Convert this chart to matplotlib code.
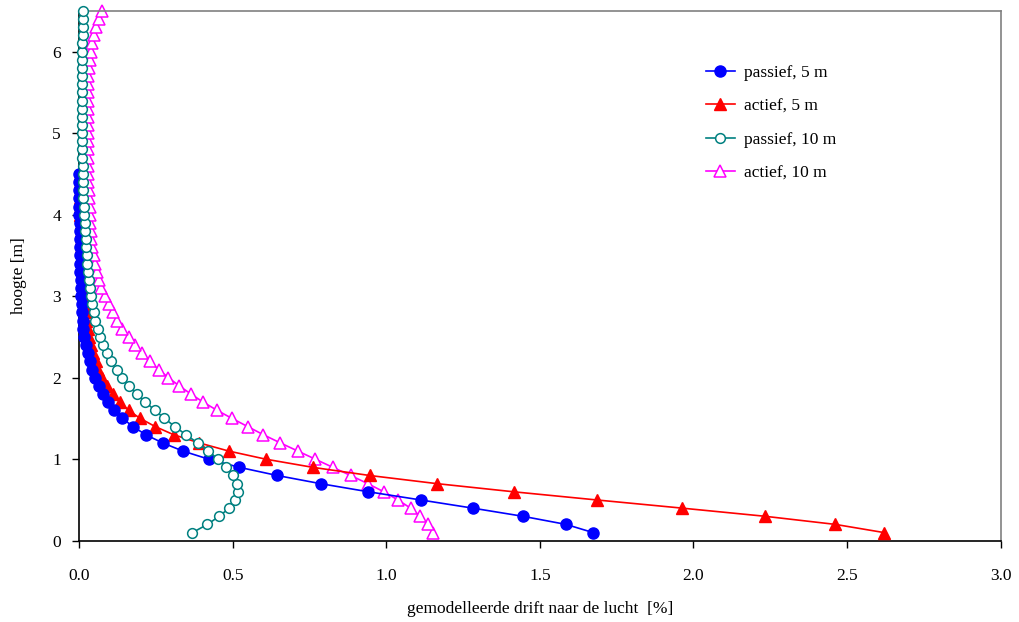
import numpy as np
import matplotlib
matplotlib.use('Agg')
import matplotlib.pyplot as plt

plt.rcParams['font.family'] = ['Liberation Serif', 'DejaVu Serif']

# heights of the model grid [m], 0.1 m steps
hoogte = [round(0.1 * i, 1) for i in range(1, 66)]

# modelled drift [%] per height
passief_5m = [1.673, 1.585, 1.444, 1.281, 1.112, 0.942, 0.786, 0.645, 0.522, 0.422,
              0.338, 0.272, 0.217, 0.176, 0.141, 0.114, 0.095, 0.077, 0.064, 0.053,
              0.043, 0.036, 0.028, 0.022, 0.017, 0.014, 0.012, 0.010, 0.008, 0.007,
              0.006, 0.005, 0.004, 0.004, 0.003, 0.003, 0.002, 0.002, 0.002, 0.001,
              0.001, 0.001, 0.001, 0.001, 0.000]
actief_5m = [2.620, 2.462, 2.232, 1.962, 1.685, 1.415, 1.165, 0.946, 0.761, 0.608,
             0.487, 0.391, 0.308, 0.248, 0.199, 0.161, 0.134, 0.109, 0.092, 0.076,
             0.063, 0.054, 0.046, 0.039, 0.033, 0.028, 0.024, 0.021, 0.018, 0.016,
             0.014, 0.012, 0.011, 0.009, 0.008, 0.007, 0.006, 0.005, 0.005, 0.004,
             0.003, 0.003, 0.002, 0.002, 0.002]
passief_10m = [0.369, 0.418, 0.456, 0.489, 0.508, 0.517, 0.515, 0.500, 0.478, 0.452,
               0.421, 0.386, 0.348, 0.312, 0.278, 0.247, 0.216, 0.188, 0.163, 0.141,
               0.122, 0.105, 0.092, 0.079, 0.069, 0.060, 0.053, 0.047, 0.043, 0.039,
               0.035, 0.032, 0.029, 0.027, 0.025, 0.023, 0.021, 0.019, 0.018, 0.016,
               0.015, 0.014, 0.013, 0.013, 0.012, 0.012, 0.011, 0.011, 0.011, 0.011,
               0.011, 0.011, 0.011, 0.011, 0.011, 0.011, 0.011, 0.011, 0.011, 0.011,
               0.011, 0.012, 0.012, 0.012, 0.012]
actief_10m = [1.152, 1.136, 1.111, 1.079, 1.038, 0.992, 0.940, 0.884, 0.826, 0.769,
              0.712, 0.655, 0.600, 0.549, 0.498, 0.449, 0.404, 0.364, 0.326, 0.291,
              0.259, 0.230, 0.204, 0.183, 0.161, 0.141, 0.125, 0.109, 0.096, 0.084,
              0.073, 0.065, 0.058, 0.052, 0.048, 0.043, 0.040, 0.038, 0.036, 0.035,
              0.034, 0.032, 0.031, 0.030, 0.030, 0.029, 0.029, 0.029, 0.029, 0.029,
              0.029, 0.029, 0.029, 0.029, 0.029, 0.029, 0.030, 0.032, 0.034, 0.038,
              0.041, 0.048, 0.055, 0.065, 0.076]

fig = plt.figure(figsize=(10.19, 6.22), dpi=100)
ax = fig.add_axes([0.0776, 0.1307, 0.9044, 0.8518])

ax.plot(passief_5m, hoogte[:len(passief_5m)], '-o', color='#0000ff', lw=1.2,
        ms=8, mec='#0000ff', mfc='#0000ff', label='passief, 5 m', zorder=4, clip_on=False)
ax.plot(actief_5m, hoogte[:len(actief_5m)], '-^', color='#ff0000', lw=1.2,
        ms=8, mec='#ff0000', mfc='#ff0000', label='actief, 5 m', zorder=3, clip_on=False)
ax.plot(passief_10m, hoogte, '-o', color='#008080', lw=1.2,
        ms=7, mec='#008080', mfc='white', mew=1.1, label='passief, 10 m', zorder=5,
        clip_on=False)
ax.plot(actief_10m, hoogte, '-^', color='#ff00ff', lw=1.2,
        ms=8, mec='#ff00ff', mfc='white', mew=1.1, label='actief, 10 m', zorder=2,
        clip_on=False)

ax.set_xlim(0, 3.0)
ax.set_ylim(0, 6.5)
ax.set_xticks(np.arange(0, 3.01, 0.5))
ax.set_xticklabels(['%.1f' % v for v in np.arange(0, 3.01, 0.5)])
ax.set_yticks(range(0, 7))

for s in ['top', 'right']:
    ax.spines[s].set_color('#808080')
for s in ['left', 'bottom']:
    ax.spines[s].set_color('black')
for s in ax.spines.values():
    s.set_linewidth(1.2)
ax.tick_params(direction='out', length=5, width=1, labelsize=12.5, pad=8)
ax.tick_params(axis='x', pad=15)

ax.set_xlabel('gemodelleerde drift naar de lucht  [%]', fontsize=12.5, labelpad=12)
ax.set_ylabel('hoogte [m]', fontsize=12.5, labelpad=18)

ax.legend(loc='upper left', bbox_to_anchor=(0.684, 0.91), bbox_transform=fig.transFigure,
          frameon=False, fontsize=12.5, handlelength=1.7, handletextpad=0.5,
          labelspacing=1.0, borderpad=0)

fig.savefig('out.png', dpi=100)
